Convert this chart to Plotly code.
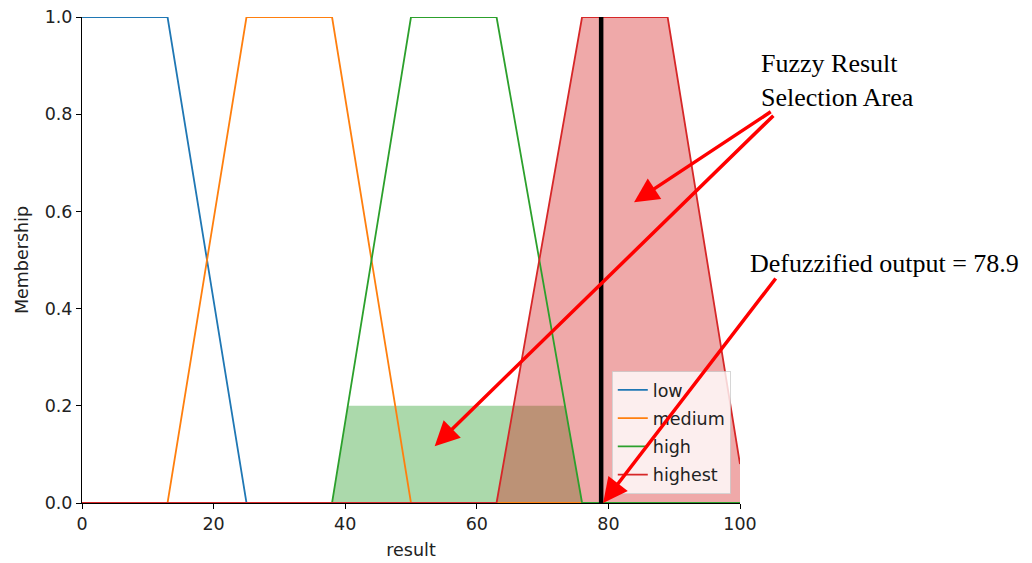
import plotly.graph_objects as go

# Membership functions of the "result" variable (trapezoid vertices)
low_x = [0, 13, 25, 100]
low_y = [1, 1, 0, 0]
medium_x = [0, 13, 25, 38, 50, 100]
medium_y = [0, 0, 1, 1, 0, 0]
high_x = [0, 38, 50, 63, 76, 100]
high_y = [0, 0, 1, 1, 0, 0]
highest_x = [0, 63, 76, 89, 100]
highest_y = [0, 0, 1, 1, 0.08]

# Activated (clipped) output regions
high_fill_x = [38, 40.4, 73.4, 76]
high_fill_y = [0, 0.2, 0.2, 0]
highest_fill_x = [63, 76, 89, 100]
highest_fill_y = [0, 1, 1, 0.08]

defuzz_value = 78.9
defuzz_height = 1.0

x_ticks = [0, 20, 40, 60, 80, 100]
y_ticks = [0.0, 0.2, 0.4, 0.6, 0.8, 1.0]

BLUE, ORANGE, GREEN, RED = "#1f77b4", "#ff7f0e", "#2ca02c", "#d62728"
FONT = "DejaVu Sans"
SERIF = "Liberation Serif"
FS = 17.5

fig = go.Figure()

# filled activation areas
fig.add_trace(go.Scatter(x=high_fill_x, y=high_fill_y, mode="lines", fill="tozeroy",
                         fillcolor="rgba(44,160,44,0.4)", line=dict(width=0),
                         showlegend=False, hoverinfo="skip"))
fig.add_trace(go.Scatter(x=highest_fill_x, y=highest_fill_y, mode="lines", fill="tozeroy",
                         fillcolor="rgba(214,39,40,0.4)", line=dict(width=0),
                         showlegend=False, hoverinfo="skip"))

# membership lines
for i, (name, xs, ys, col) in enumerate([
        ("low", low_x, low_y, BLUE),
        ("medium", medium_x, medium_y, ORANGE),
        ("high", high_x, high_y, GREEN),
        ("highest", highest_x, highest_y, RED)]):
    fig.add_trace(go.Scatter(x=xs, y=ys, mode="lines", name=name,
                             line=dict(color=col, width=1.8),
                             legendgroup=f"g{i}"))

# defuzzified output line
fig.add_trace(go.Scatter(x=[defuzz_value, defuzz_value], y=[0, defuzz_height],
                         mode="lines", line=dict(color="black", width=4.5),
                         showlegend=False, hoverinfo="skip"))

# explanatory text
for txt, xp, yp in [("Fuzzy Result", 759, 64), ("Selection Area", 759, 98),
                    ("Defuzzified output = 78.9", 748, 263)]:
    fig.add_annotation(text=txt, xref="paper", yref="paper",
                       x=(xp - 82) / 658, y=(503 - yp) / 486,
                       xanchor="left", yanchor="middle", showarrow=False,
                       font=dict(family=SERIF, size=26, color="black"))

# arrows (tail -> head), in data coordinates
arrows = [
    ((104.9, 0.807), (83.9, 0.619)),
    ((105.3, 0.800), (53.6, 0.117)),
    ((105.6, 0.465), (defuzz_value + 0.3, 0.0)),
]
for (tx, ty), (hx, hy) in arrows:
    fig.add_annotation(text="", x=hx, y=hy, ax=tx, ay=ty,
                       xref="x", yref="y", axref="x", ayref="y",
                       showarrow=True, arrowhead=2, arrowsize=1.4,
                       arrowwidth=3.5, arrowcolor="#ff0000", standoff=0)

fig.update_layout(
    width=1032, height=563,
    margin=dict(l=82, r=292, t=17, b=60),
    plot_bgcolor="white", paper_bgcolor="white",
    font=dict(family=FONT, size=FS, color="#222"),
    legend=dict(x=0.986, y=0.0185, xanchor="right", yanchor="bottom",
                bgcolor="rgba(255,255,255,0.8)", bordercolor="rgba(204,204,204,0.8)",
                borderwidth=1, font=dict(family=FONT, size=FS, color="#222"),
                traceorder="grouped", tracegroupgap=2.5),
    xaxis=dict(range=[0, 100], tickvals=x_ticks, ticktext=[str(v) for v in x_ticks],
               showline=True, linecolor="black", linewidth=1, ticks="outside",
               ticklen=5, tickcolor="black", showgrid=False, zeroline=False,
               tickfont=dict(size=FS), automargin=False,
               title=dict(text="result", standoff=10, font=dict(size=FS))),
    yaxis=dict(range=[0, 1], tickvals=y_ticks, ticktext=[f"{v:.1f}" for v in y_ticks],
               showline=True, linecolor="black", linewidth=1, ticks="outside",
               ticklen=5, tickcolor="black", showgrid=False, zeroline=False,
               tickfont=dict(size=FS), automargin=False,
               title=dict(text="Membership", standoff=11, font=dict(size=FS))),
)

fig.write_html("out.html")
